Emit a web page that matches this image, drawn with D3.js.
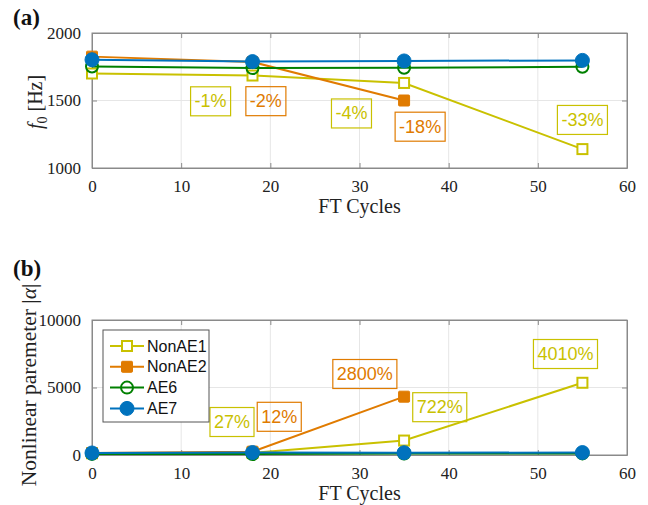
<!DOCTYPE html>
<html>
<head>
<meta charset="utf-8">
<script src="https://cdn.jsdelivr.net/npm/d3@7"></script>
<style>
  body { margin: 0; background: #fff; }
</style>
</head>
<body>
<div id="card"></div>
<script>
const w = 648;
const h = 505;
const serif = "'Liberation Serif', 'DejaVu Serif', serif";
const sans = "'Liberation Sans', Arial, sans-serif";

//data
const cycles = [0, 18, 35, 55];
const seriesNames = ["NonAE1", "NonAE2", "AE6", "AE7"];
const colors = ["#c9c100", "#e07b00", "#008000", "#0072bd"];

// panel (a): resonance frequency f0 [Hz]
const f0NonAE1 = [1700, 1685, 1630, 1140];
const f0NonAE2 = [1825, 1785, 1500];
const f0AE6 = [1752, 1740, 1743, 1750];
const f0AE7 = [1802, 1788, 1793, 1797];
const f0Labels = [
  { text: "-1%", s: 0, x: 13.3, y: 1494 },
  { text: "-2%", s: 1, x: 19.5, y: 1495 },
  { text: "-4%", s: 0, x: 29.1, y: 1404 },
  { text: "-18%", s: 1, x: 36.8, y: 1306 },
  { text: "-33%", s: 0, x: 55.0, y: 1356 }
];

// panel (b): nonlinear parameter |alpha|
const alphaNonAE1 = [130, 165, 1070, 5350];
const alphaNonAE2 = [150, 250, 4320];
const alphaAE6 = [80, 70, 110, 120];
const alphaAE7 = [150, 180, 170, 180];
const alphaLabels = [
  { text: "27%", s: 0, x: 15.7, y: 2444 },
  { text: "12%", s: 1, x: 21.0, y: 2830 },
  { text: "2800%", s: 1, x: 30.6, y: 6000 },
  { text: "722%", s: 0, x: 39.0, y: 3541 },
  { text: "4010%", s: 0, x: 53.1, y: 7481 }
];

const xTicks = [0, 10, 20, 30, 40, 50, 60];

const svg = d3.select("#card").append("svg")
  .attr("width", w).attr("height", h);

function panel(opts) {
  const left = 92, right = 627;
  const x = d3.scaleLinear().domain([0, 60]).range([left, right]);
  const y = d3.scaleLinear().domain(opts.domain).range([opts.bottom, opts.top]);
  const g = svg.append("g");

  //gridlines
  g.append("g").selectAll("line").data(xTicks.slice(1, -1)).enter().append("line")
    .attr("x1", d => x(d)).attr("x2", d => x(d))
    .attr("y1", opts.top).attr("y2", opts.bottom)
    .attr("stroke", "#e6e6e6");
  g.append("g").selectAll("line").data(opts.yTicks.slice(1, -1)).enter().append("line")
    .attr("y1", d => y(d)).attr("y2", d => y(d))
    .attr("x1", left).attr("x2", right)
    .attr("stroke", "#e6e6e6");

  //axes, ticks pointing inward like matlab
  g.append("g").attr("transform", "translate(0," + opts.bottom + ")")
    .call(d3.axisBottom(x).tickValues(xTicks).tickSizeInner(-5).tickSizeOuter(0).tickPadding(12));
  g.append("g").attr("transform", "translate(" + left + ",0)")
    .call(d3.axisLeft(y).tickValues(opts.yTicks).tickSizeInner(-5).tickSizeOuter(0).tickPadding(11).tickFormat(d3.format("d")));
  g.append("g").attr("transform", "translate(0," + opts.top + ")")
    .call(d3.axisTop(x).tickValues(xTicks).tickSizeInner(-5).tickSizeOuter(0).tickFormat(""));
  g.append("g").attr("transform", "translate(" + right + ",0)")
    .call(d3.axisRight(y).tickValues(opts.yTicks).tickSizeInner(-5).tickSizeOuter(0).tickFormat(""));
  g.selectAll(".domain, .tick line").attr("stroke", "#8a8a8a");
  g.selectAll(".tick text").style("font-family", serif).style("font-size", "17px").attr("fill", "#222");
  g.append("rect").attr("x", left).attr("y", opts.top)
    .attr("width", right - left).attr("height", opts.bottom - opts.top)
    .attr("fill", "none").attr("stroke", "#8a8a8a");

  //lines and markers
  const line = d3.line().x((d, i) => x(cycles[i])).y(d => y(d));
  opts.series.forEach((vals, s) => {
    g.append("path").datum(vals).attr("d", line)
      .attr("fill", "none").attr("stroke", colors[s]).attr("stroke-width", 2);
    vals.forEach((v, i) => marker(g, s, x(cycles[i]), y(v)));
  });

  //percentage boxes
  opts.labels.forEach(l => {
    const b = g.append("g");
    const t = b.append("text").attr("x", x(l.x)).attr("y", y(l.y))
      .attr("text-anchor", "middle").attr("dominant-baseline", "central")
      .style("font-family", sans).style("font-size", "18px")
      .attr("fill", colors[l.s]).text(l.text);
    const bb = t.node().getBBox();
    b.insert("rect", "text")
      .attr("x", bb.x - 4).attr("y", y(l.y) - 14.5)
      .attr("width", bb.width + 8).attr("height", 29)
      .attr("fill", "none").attr("stroke", colors[l.s]).attr("stroke-width", 1.2);
  });

  //axis labels
  g.append("text")
    .attr("x", (left + right) / 2).attr("y", opts.bottom + 45)
    .attr("text-anchor", "middle").style("font-family", serif).style("font-size", "20px")
    .attr("fill", "#222").text("FT Cycles");
  g.append("text")
    .attr("x", 13).attr("y", opts.tagY)
    .style("font-family", serif).style("font-size", "23px").style("font-weight", "bold")
    .attr("fill", "#111").text(opts.tag);
  return { x, y, g };
}

function marker(g, s, cx, cy) {
  const c = colors[s];
  if (s === 0) {
    g.append("rect").attr("x", cx - 5).attr("y", cy - 5).attr("width", 10).attr("height", 10)
      .attr("fill", "#fff").attr("stroke", c).attr("stroke-width", 2);
  } else if (s === 1) {
    g.append("rect").attr("x", cx - 5.5).attr("y", cy - 5.5).attr("width", 11).attr("height", 11)
      .attr("fill", c).attr("stroke", c).attr("stroke-width", 1).attr("rx", 1);
  } else if (s === 2) {
    g.append("circle").attr("cx", cx).attr("cy", cy).attr("r", 6)
      .attr("fill", "none").attr("stroke", c).attr("stroke-width", 2);
  } else {
    g.append("circle").attr("cx", cx).attr("cy", cy).attr("r", 7)
      .attr("fill", c).attr("stroke", c).attr("stroke-width", 1);
  }
}

panel({
  top: 33, bottom: 168, domain: [1000, 2000], yTicks: [1000, 1500, 2000],
  series: [f0NonAE1, f0NonAE2, f0AE6, f0AE7], labels: f0Labels, tag: "(a)", tagY: 25
});
// y label (a): f0 [Hz]
const ylA = svg.append("text")
  .attr("transform", "translate(42,102) rotate(-90)")
  .attr("text-anchor", "middle").style("font-family", serif).style("font-size", "20px").attr("fill", "#222");
ylA.append("tspan").style("font-style", "italic").text("f");
ylA.append("tspan").attr("dy", 5).style("font-size", "14px").text("0");
ylA.append("tspan").attr("dy", -5).text(" [Hz]");

panel({
  top: 320, bottom: 455, domain: [0, 10000], yTicks: [0, 5000, 10000],
  series: [alphaNonAE1, alphaNonAE2, alphaAE6, alphaAE7], labels: alphaLabels, tag: "(b)", tagY: 276
});
const ylB = svg.append("text")
  .attr("transform", "translate(36,385) rotate(-90)")
  .attr("text-anchor", "middle").style("font-family", serif).style("font-size", "21.5px").attr("fill", "#222");
ylB.append("tspan").text("Nonlinear paremeter |");
ylB.append("tspan").style("font-style", "italic").text("α");
ylB.append("tspan").text("|");

//legend
const leg = svg.append("g").attr("transform", "translate(103,330)");
leg.append("rect").attr("width", 106).attr("height", 92)
  .attr("fill", "#fff").attr("stroke", "#555").attr("stroke-width", 1);
seriesNames.forEach((n, s) => {
  const yy = 16 + s * 20.8;
  leg.append("line").attr("x1", 7).attr("x2", 41).attr("y1", yy).attr("y2", yy)
    .attr("stroke", colors[s]).attr("stroke-width", 2);
  marker(leg, s, 24, yy);
  leg.append("text").attr("x", 44).attr("y", yy).attr("dominant-baseline", "central")
    .style("font-family", sans).style("font-size", "16px")
    .attr("fill", "#111").text(n);
});
</script>
</body>
</html>
